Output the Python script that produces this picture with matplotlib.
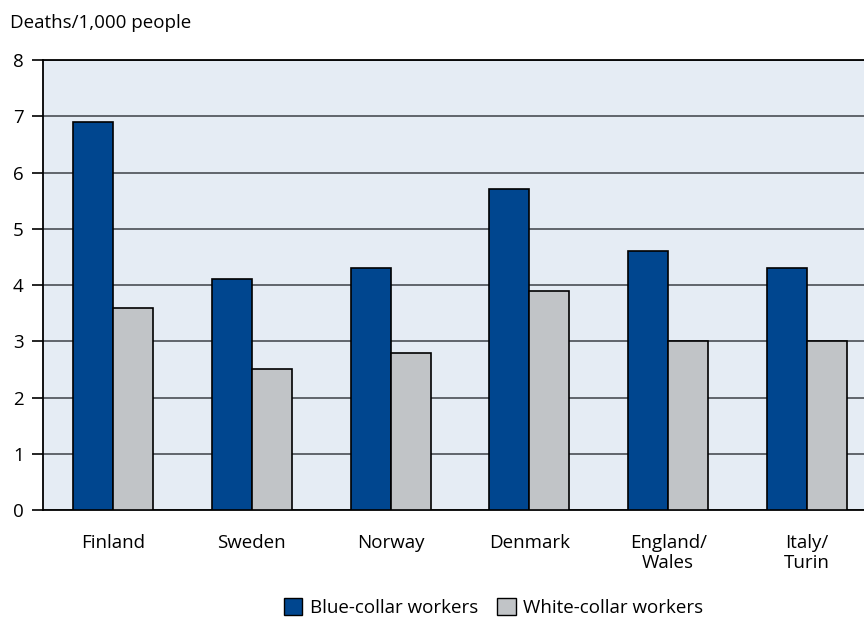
import numpy as np
import matplotlib.pyplot as plt
from matplotlib.patches import Patch

plt.rcParams['font.family'] = ['Open Sans', 'DejaVu Sans']

countries = ['Finland', 'Sweden', 'Norway', 'Denmark', 'England/\nWales', 'Italy/\nTurin']
blue_collar = [6.9, 4.1, 4.3, 5.7, 4.6, 4.3]
white_collar = [3.6, 2.5, 2.8, 3.9, 3.0, 3.0]

blue = '#00468f'
grey = '#c1c4c7'

fig = plt.figure(figsize=(8.64, 6.2), dpi=100)
ax = fig.add_axes([0.0498, 0.1774, 0.9502, 0.7258])
ax.set_facecolor('#e5ecf4')

x = np.arange(len(countries))
w = 0.288
ax.set_axisbelow(True)
ax.yaxis.grid(True, color='#555a60', linewidth=1.3)
ax.bar(x - w / 2, blue_collar, w, color=blue, edgecolor='black', linewidth=1.2, zorder=3)
ax.bar(x + w / 2, white_collar, w, color=grey, edgecolor='black', linewidth=1.2, zorder=3)

ax.set_xlim(-0.504, 5.411)
ax.set_ylim(0, 8)
ax.set_yticks(range(0, 9))
ax.set_xticks(x)
ax.set_xticklabels(countries, fontsize=13.5, linespacing=1.2)
ax.tick_params(axis='x', length=0, pad=17)
ax.tick_params(axis='y', length=8, width=1.2, labelsize=13.5, pad=6)
for s in ['left', 'bottom', 'top']:
    ax.spines[s].set_linewidth(1.3)
ax.spines['right'].set_visible(False)

fig.text(0.012, 0.963, 'Deaths/1,000 people', fontsize=13.5, va='center')

handles = [Patch(facecolor=blue, edgecolor='black', label='Blue-collar workers'),
           Patch(facecolor=grey, edgecolor='black', label='White-collar workers')]
fig.legend(handles=handles, loc='center', bbox_to_anchor=(0.571, 0.02), ncol=2,
           frameon=False, fontsize=13.5, handlelength=1.0, handleheight=1.0,
           handletextpad=0.4, columnspacing=1.0)

fig.savefig('out.png', dpi=100)
